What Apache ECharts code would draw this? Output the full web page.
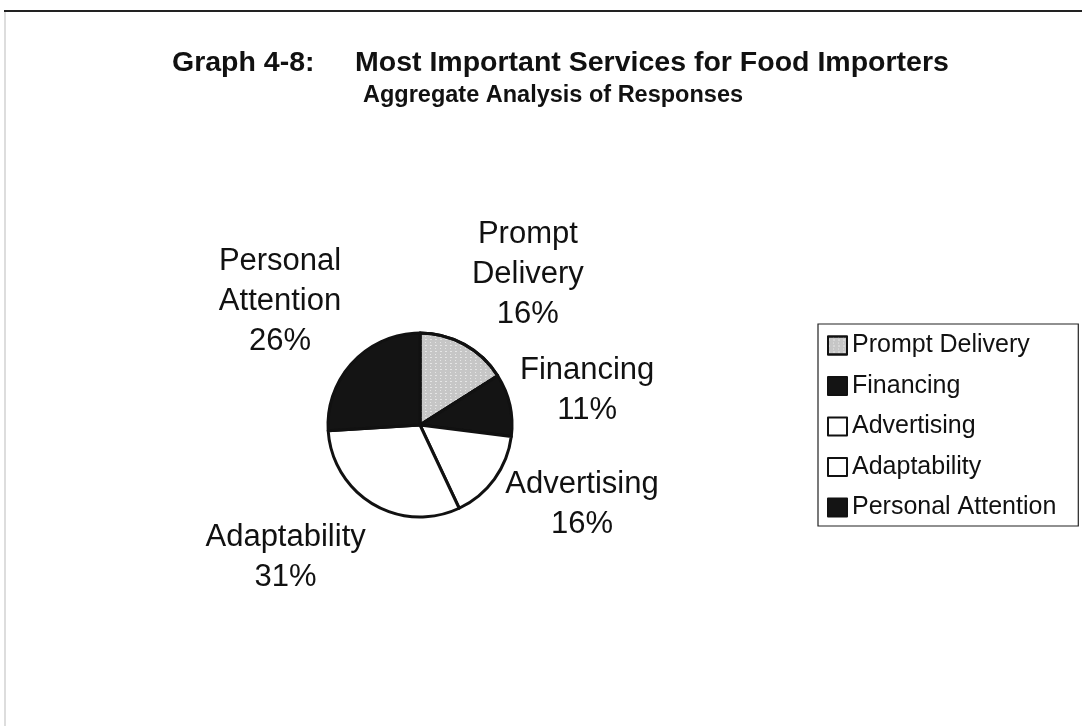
<!DOCTYPE html>
<html>
<head>
<meta charset="utf-8">
<script src="https://cdn.jsdelivr.net/npm/echarts@6/dist/echarts.min.js"></script>
<style>html,body{margin:0;padding:0;background:#fff;}#c{width:1082px;height:726px;}</style>
</head>
<body>
<div id="c"></div>
<script>
var categories = ['Prompt Delivery', 'Financing', 'Advertising', 'Adaptability', 'Personal Attention'];
var labelNames = ['Prompt\nDelivery', 'Financing', 'Advertising', 'Adaptability', 'Personal\nAttention'];
var values = [16, 11, 16, 31, 26];

// styling (not data)
var fills = ['#c6c6c6', '#141414', '#ffffff', '#ffffff', '#141414'];
var labelLineLens = [[80, 25], [68, 11], [44, 52], [62, 56], [89, 8]];

var chart = echarts.init(document.getElementById('c'), null, {renderer: 'canvas'});
var data = categories.map(function (c, i) {
  var item = {
    name: c,
    value: values[i],
    itemStyle: {color: fills[i]},
    label: {formatter: labelNames[i] + '\n{d}%'},
    labelLine: {length: labelLineLens[i][0], length2: labelLineLens[i][1]}
  };
  if (i === 0) {
    item.itemStyle.decal = {
      symbol: 'rect', symbolSize: 1,
      color: 'rgba(255,255,255,0.55)',
      dashArrayX: [[2, 3], [1, 4]], dashArrayY: [1, 2], rotation: 0
    };
  }
  return item;
});
var font = 'Liberation Sans';
chart.setOption({
  animation: false,
  backgroundColor: '#fff',
  title: [{
    text: 'Graph 4-8:',
    left: 167, top: 44,
    textStyle: {fontFamily: font, fontWeight: 'bold', fontSize: 28.5, color: '#111'}
  }, {
    text: 'Most Important Services for Food Importers',
    left: 350, top: 44,
    textStyle: {fontFamily: font, fontWeight: 'bold', fontSize: 28.5, color: '#111'}
  }, {
    text: 'Aggregate Analysis of Responses',
    left: 358, top: 79,
    textStyle: {fontFamily: font, fontWeight: 'bold', fontSize: 23.5, color: '#111'}
  }],
  legend: {
    orient: 'vertical',
    left: 818, top: 324,
    padding: [9, 22, 6, 9],
    borderColor: '#222', borderWidth: 1.2,
    itemWidth: 19, itemHeight: 18, itemGap: 15.5,
    icon: 'rect',
    data: categories,
    itemStyle: {borderColor: '#111', borderWidth: 2},
    textStyle: {fontFamily: font, fontSize: 25, lineHeight: 25, color: '#111'}
  },
  series: [{
    type: 'pie',
    center: [420, 425],
    radius: 92,
    startAngle: 90,
    clockwise: true,
    avoidLabelOverlap: false,
    data: data,
    itemStyle: {borderColor: '#111', borderWidth: 3},
    label: {
      show: true, position: 'outside',
      fontFamily: font, fontSize: 31, color: '#111',
      lineHeight: 40, distanceToLabelLine: 0
    },
    labelLine: {show: false},
    labelLayout: function () { return {align: 'center', verticalAlign: 'middle'}; },
    emphasis: {disabled: true}
  }],
  graphic: [
    {type: 'line', shape: {x1: 4, y1: 11, x2: 1082, y2: 11}, style: {stroke: '#222', lineWidth: 2}},
    {type: 'line', shape: {x1: 5, y1: 12, x2: 5, y2: 726}, style: {stroke: '#bbb', lineWidth: 1}}
  ]
});
</script>
</body>
</html>
